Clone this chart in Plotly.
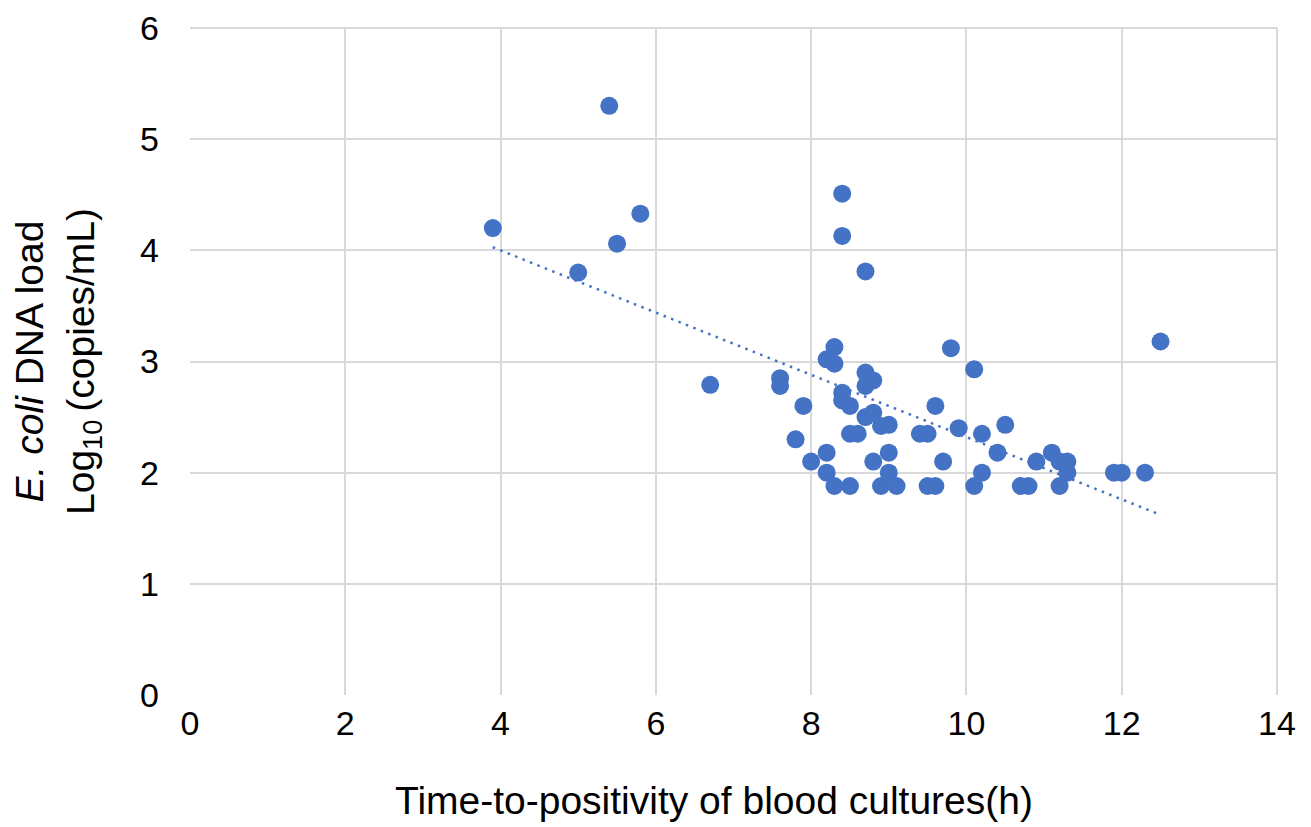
import numpy as np
import plotly.graph_objects as go

ttp_h = [3.9, 5.0, 5.4, 5.5, 5.8, 6.7, 7.6, 7.6, 7.9, 7.8, 8.0, 8.2, 8.2, 8.3,
         8.2, 8.3, 8.3, 8.4, 8.4, 8.4, 8.4, 8.5, 8.5, 8.5, 8.6, 8.7, 8.7, 8.7,
         8.8, 8.7, 8.8, 8.8, 8.9, 9.0, 8.9, 9.0, 9.0, 9.1, 9.4, 9.5, 9.5, 9.6,
         9.6, 9.7, 9.8, 9.9, 10.1, 10.1, 10.2, 10.2, 10.4, 10.5, 10.7, 10.8,
         10.9, 11.1, 11.2, 11.2, 11.3, 11.3, 11.9, 12.0, 12.3, 12.5]
log_load = [4.2, 3.8, 5.3, 4.06, 4.33, 2.79, 2.85, 2.78, 2.6, 2.3, 2.1, 2.18, 2.0, 1.88,
            3.02, 3.13, 2.98, 4.51, 4.13, 2.72, 2.65, 2.6, 2.35, 1.88, 2.35, 3.81, 2.9, 2.78,
            2.83, 2.5, 2.54, 2.1, 2.42, 2.43, 1.88, 2.18, 2.0, 1.88, 2.35, 2.35, 1.88, 1.88,
            2.6, 2.1, 3.12, 2.4, 2.93, 1.88, 2.35, 2.0, 2.18, 2.43, 1.88, 1.88,
            2.1, 2.18, 2.1, 1.88, 2.1, 2.0, 2.0, 2.0, 2.0, 3.18]

x_ticks = [0, 2, 4, 6, 8, 10, 12, 14]
y_ticks = [0, 1, 2, 3, 4, 5, 6]

x_title = "Time-to-positivity of blood cultures(h)"
y_title = "<i>E. coli</i> DNA load<br>Log<sub>10</sub>\u2009(copies/mL)"

blue = "#4472C4"
grid = "#D9D9D9"
font = "Liberation Sans, Arial, sans-serif"

slope, intercept = np.polyfit(ttp_h, log_load, 1)
xfit = np.array([min(ttp_h), max(ttp_h)])
yfit = slope * xfit + intercept

fig = go.Figure()
fig.add_trace(go.Scatter(x=xfit, y=yfit, mode="lines",
                         line=dict(color=blue, width=2.5, dash="2.5px,5.5px"),
                         hoverinfo="skip", showlegend=False))
fig.add_trace(go.Scatter(x=ttp_h, y=log_load, mode="markers",
                         marker=dict(color=blue, size=18, line=dict(width=0)),
                         showlegend=False))

fig.update_layout(
    width=1311, height=827,
    margin=dict(l=182, r=42, t=20, b=140, autoexpand=False),
    paper_bgcolor="white", plot_bgcolor="white",
    font=dict(family=font, color="#000000", size=34),
    xaxis=dict(range=[0, 14], tickvals=x_ticks, showgrid=True, gridcolor=grid, gridwidth=2,
               zeroline=False, showline=False, ticks="", tickfont=dict(size=34),
               ticklabelstandoff=5, automargin=False),
    yaxis=dict(range=[0, 6], tickvals=y_ticks, showgrid=True, gridcolor=grid, gridwidth=2,
               zeroline=False, showline=False, ticks="", tickfont=dict(size=34),
               ticklabelstandoff=30, automargin=False,
               title=dict(text=y_title, font=dict(size=39), standoff=44)),
)
fig.add_annotation(text=x_title, xref="paper", yref="paper", x=0.482, y=0,
                   xanchor="center", yanchor="middle", yshift=-105,
                   showarrow=False, font=dict(size=39, family=font, color="#000000"))
fig.add_shape(type="line", xref="paper", yref="paper", x0=1, x1=1, y0=0, y1=1,
              line=dict(color=grid, width=2))
fig.add_shape(type="line", xref="paper", yref="paper", x0=0, x1=1, y0=1, y1=1,
              line=dict(color=grid, width=2))

fig.write_html("out.html")
